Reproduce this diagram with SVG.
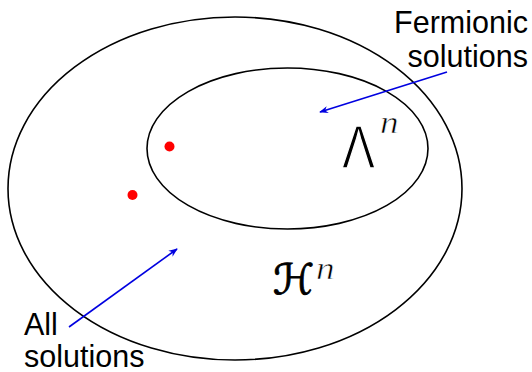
<svg xmlns="http://www.w3.org/2000/svg" width="532" height="372" viewBox="0 0 532 372">
<style>
.set{fill:none;stroke:#000;stroke-width:1.6}
.lbl{font-family:"Liberation Sans",Arial,sans-serif;font-size:30.5px;fill:#000}
.arr{stroke:#0000e0;stroke-width:1.6;fill:none}
.dot{fill:#ff0000}
.sup{font-family:"Liberation Serif",serif;font-style:italic;font-size:31px;fill:#000;stroke:#fff;stroke-width:0.6}
</style>
<defs>
<marker id="ah" viewBox="0 0 10 10" refX="9" refY="5" markerWidth="9" markerHeight="9" markerUnits="userSpaceOnUse" orient="auto">
<path d="M0,1 L10,5 L0,9 L3,5 Z" fill="#0000e0"/>
</marker>
</defs>
<g id="outer">
<ellipse class="set" cx="235" cy="188.5" rx="227" ry="171.5"/>
<text x="273" y="294" style="font-family:'DejaVu Sans',sans-serif;font-size:42px;fill:#000;stroke:#000;stroke-width:0.9">ℋ</text>
<text class="sup" transform="translate(316,279) scale(1.2,1)">n</text>
</g>
<g id="inner">
<ellipse class="set" cx="287.5" cy="148.5" rx="140.5" ry="80.5"/>
<text transform="translate(342,168) scale(0.8,1)" style="font-family:'Liberation Sans',sans-serif;font-size:62px;fill:#000;stroke:#fff;stroke-width:1.4">Λ</text>
<text class="sup" transform="translate(380,133) scale(1.2,1)">n</text>
</g>
<g id="points">
<circle class="dot" cx="169.5" cy="146.5" r="5"/>
<circle class="dot" cx="132.5" cy="195" r="5"/>
</g>
<g id="label-fermionic">
<text class="lbl" x="528" y="33" text-anchor="end">Fermionic</text>
<text class="lbl" x="528" y="67" text-anchor="end">solutions</text>
</g>
<g id="label-all">
<text class="lbl" x="24" y="335">All</text>
<text class="lbl" x="24" y="367">solutions</text>
</g>
<g id="connectors">
<line class="arr" x1="447" y1="72" x2="320" y2="112" marker-end="url(#ah)"/>
<line class="arr" x1="69" y1="327" x2="177" y2="249" marker-end="url(#ah)"/>
</g>
</svg>
